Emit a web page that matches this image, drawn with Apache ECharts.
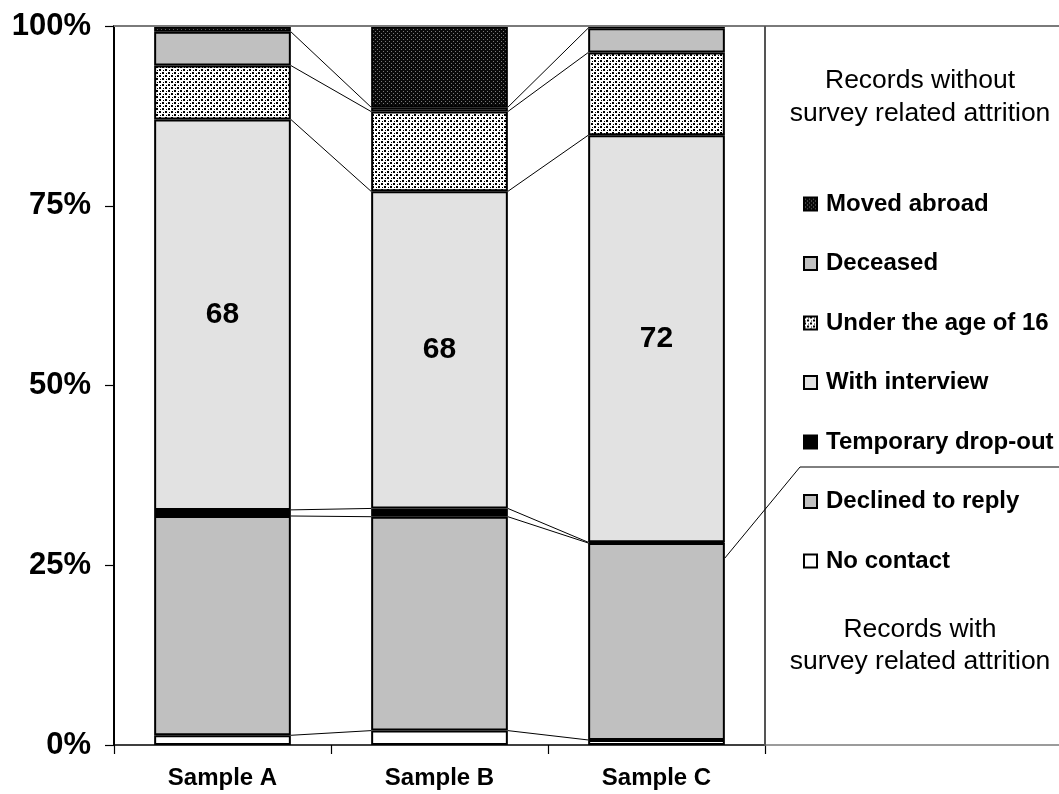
<!DOCTYPE html>
<html><head><meta charset="utf-8">
<script src="https://cdn.jsdelivr.net/npm/echarts@6/dist/echarts.min.js"></script>
<style>html,body{margin:0;padding:0;background:#fff}#c{width:1059px;height:794px}</style>
</head><body><div id="c"></div><script>
// ---- data (percent of records) ----
const categories = ['Sample A', 'Sample B', 'Sample C'];
const noContact     = [1.35, 2.0, 0.7];
const declined      = [30.5, 29.75, 27.4];
const tempDropout   = [0.85, 1.15, 0.1];
const withInterview = [54.3, 44.1, 56.6];
const under16       = [7.5, 11.1, 11.5];
const deceased      = [4.7, 0.6, 3.4];
const movedAbroad   = [0.8, 11.3, 0.3];
const interviewLabels = ['68', '68', '72'];
const yTicks = [0, 25, 50, 75, 100];
const seriesNames = ['No contact', 'Declined to reply', 'Temporary drop-out', 'With interview', 'Under the age of 16', 'Deceased', 'Moved abroad'];
const legendOrder = ['Moved abroad', 'Deceased', 'Under the age of 16', 'With interview', 'Temporary drop-out', 'Declined to reply', 'No contact'];
const topNote = 'Records without\nsurvey related attrition';
const bottomNote = 'Records with\nsurvey related attrition';

// ---- layout ----
const W = 1059, H = 794;
const G = { left: 114, top: 26, width: 651, height: 719 };
const BAR_RATIO = 0.63;
const FONT = '"Liberation Sans", Arial, sans-serif';

function pattern(size, bg, fg, dots) {
  const c = document.createElement('canvas');
  c.width = size; c.height = size;
  const x = c.getContext('2d');
  x.fillStyle = bg; x.fillRect(0, 0, size, size);
  x.fillStyle = fg;
  dots.forEach(d => x.fillRect(d[0], d[1], d[2], d[2]));
  return { image: c, repeat: 'repeat' };
}
const dotsPattern = pattern(6, '#ffffff', '#000000', [[0, 0, 2], [3, 3, 2], [1, 4, 1], [4, 1, 1]]);
const darkPattern = pattern(4, '#0a0a0a', '#7a7a7a', [[1, 1, 1], [3, 3, 1]]);

const fills = [
  '#ffffff',    // No contact
  '#c0c0c0',    // Declined
  '#000000',    // Temp drop-out
  '#e2e2e2',    // With interview
  dotsPattern,  // Under 16
  '#c0c0c0',    // Deceased
  darkPattern   // Moved abroad
];
const stackValues = [noContact, declined, tempDropout, withInterview, under16, deceased, movedAbroad];

function cumTop(k, i) { let s = 0; for (let j = 0; j <= k; j++) s += stackValues[j][i]; return s; }
const seriesLineData = [];
for (let i = 0; i < categories.length - 1; i++)
  for (let k = 0; k < stackValues.length; k++)
    seriesLineData.push([i, cumTop(k, i), cumTop(k, i + 1)]);

const barSeries = stackValues.map((vals, k) => ({
  name: seriesNames[k],
  type: 'bar',
  stack: 'all',
  barWidth: (BAR_RATIO * 100) + '%',
  data: vals,
  itemStyle: { color: fills[k], borderColor: '#000', borderWidth: 2 },
  emphasis: { disabled: true },
  label: k === 3 ? {
    show: true, position: 'inside', color: '#000',
    fontFamily: FONT, fontWeight: 'bold', fontSize: 30,
    formatter: p => interviewLabels[p.dataIndex]
  } : { show: false },
  z: 2
}));

const chart = echarts.init(document.getElementById('c'), null, { renderer: 'canvas' });
chart.setOption({
  animation: false,
  backgroundColor: '#fff',
  grid: { left: G.left, top: G.top, width: G.width, height: G.height, containLabel: false },
  xAxis: {
    type: 'category', data: categories,
    axisLine: { show: true, lineStyle: { color: '#000', width: 1.5 } },
    axisTick: { show: true, length: 9, lineStyle: { color: '#000', width: 1.2 } },
    axisLabel: { color: '#000', fontFamily: FONT, fontWeight: 'bold', fontSize: 24, margin: 21 },
    splitLine: { show: false }
  },
  yAxis: {
    type: 'value', min: yTicks[0], max: yTicks[yTicks.length - 1], interval: yTicks[1] - yTicks[0],
    axisLine: { show: true, lineStyle: { color: '#000', width: 2 } },
    axisTick: { show: true, length: 9, lineStyle: { color: '#000', width: 1.2 } },
    axisLabel: { color: '#000', fontFamily: FONT, fontWeight: 'bold', fontSize: 31, margin: 23, formatter: '{value}%' },
    splitLine: { show: false }
  },
  legend: {
    data: legendOrder,
    orient: 'vertical', left: 803, top: 192, padding: 0,
    itemWidth: 13, itemHeight: 13, itemGap: 35.5,
    icon: 'rect',
    selectedMode: false,
    textStyle: { color: '#000', fontFamily: FONT, fontWeight: 'bold', fontSize: 24, lineHeight: 24, padding: [0, 0, 0, 4] }
  },
  series: barSeries.concat([{
    type: 'custom',
    name: 'series lines',
    silent: true,
    z: 1,
    data: seriesLineData,
    encode: { x: 0, y: 1 },
    renderItem: function (params, api) {
      const i = api.value(0);
      const p1 = api.coord([i, api.value(1)]);
      const p2 = api.coord([i + 1, api.value(2)]);
      const bw = api.size([1, 0])[0] * BAR_RATIO;
      return {
        type: 'line',
        shape: { x1: p1[0] + bw / 2, y1: p1[1], x2: p2[0] - bw / 2, y2: p2[1] },
        style: { stroke: '#000', lineWidth: 1 }
      };
    }
  }])
});

// ---- frame, divider and notes ----
const right = G.left + G.width, bottom = G.top + G.height;
const bandW = G.width / categories.length;
const anchor = chart.convertToPixel({ xAxisIndex: 0, yAxisIndex: 0 }, [categories.length - 1, 26]);
const dividerY = 467;
chart.setOption({
  graphic: [
    { type: 'line', silent: true, z: 10, shape: { x1: G.left, y1: G.top, x2: W, y2: G.top }, style: { stroke: '#7a7a7a', lineWidth: 2 } },
    { type: 'line', silent: true, z: 10, shape: { x1: right, y1: bottom, x2: W, y2: bottom }, style: { stroke: '#7a7a7a', lineWidth: 1.5 } },
    { type: 'line', silent: true, z: 10, shape: { x1: right, y1: G.top, x2: right, y2: bottom + 1 }, style: { stroke: '#555', lineWidth: 2 } },
    { type: 'polyline', silent: true, z: 10, shape: { points: [[anchor[0] + bandW * BAR_RATIO / 2, anchor[1]], [800, dividerY], [W, dividerY]] }, style: { stroke: '#000', lineWidth: 1, fill: null } },
    { type: 'text', silent: true, z: 10, style: { text: topNote, x: 920, y: 97, align: 'center', verticalAlign: 'middle', font: '26.5px ' + FONT, lineHeight: 33, fill: '#000' } },
    { type: 'text', silent: true, z: 10, style: { text: bottomNote, x: 920, y: 646, align: 'center', verticalAlign: 'middle', font: '26.5px ' + FONT, lineHeight: 32, fill: '#000' } }
  ]
});
</script></body></html>
